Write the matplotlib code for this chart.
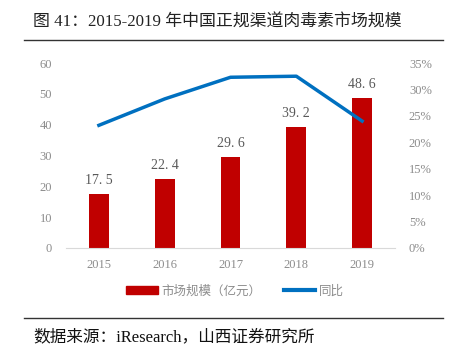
import matplotlib.pyplot as plt
from matplotlib.lines import Line2D
from matplotlib.patches import Patch
from matplotlib.ticker import FuncFormatter

plt.rcParams['font.family'] = ['Liberation Serif', 'Noto Sans CJK SC']

years = ["2015", "2016", "2017", "2018", "2019"]
market = [17.5, 22.4, 29.6, 39.2, 48.6]
growth = [0.232, 0.282, 0.323, 0.325, 0.24]

red = "#c00000"
blue = "#0070c0"
gray = "#8c8c8c"

fig = plt.figure(figsize=(4.52, 3.54), dpi=100)
ax = fig.add_axes([0.146, 0.30, 0.728, 0.522])

x = range(len(years))
ax.bar(x, market, width=0.3, color=red, zorder=2)
for i, v in enumerate(market):
    # the source font draws the decimal point wide
    ax.text(i, v + 2.2, f"{v}".replace(".", ". "), ha="center", va="bottom",
            fontsize=10, color="#595959")
ax.set_ylim(0, 60)
ax.set_yticks(range(0, 61, 10))
ax.set_xlim(-0.5, 4.5)
ax.set_xticks(list(x))
ax.set_xticklabels(years)

ax2 = ax.twinx()
ax2.plot(x, growth, color=blue, linewidth=2.5, zorder=3)
ax2.set_ylim(0, 0.35)
ax2.set_yticks([i * 0.05 for i in range(8)])
ax2.yaxis.set_major_formatter(FuncFormatter(lambda v, p: f"{round(v * 100)}%"))

for a in (ax, ax2):
    for s in a.spines.values():
        s.set_visible(False)
    a.tick_params(length=0, colors=gray, labelsize=9)
ax.spines["bottom"].set_visible(True)
ax.spines["bottom"].set_color("#d9d9d9")
ax.tick_params(axis="x", pad=8)
ax.tick_params(axis="y", pad=10)
ax2.tick_params(axis="y", pad=10)

handles = [Patch(color=red), Line2D([0], [0], color=blue, linewidth=3)]
leg = fig.legend(handles, ["市场规模（亿元）", "同比"], loc="center", bbox_to_anchor=(0.52, 0.178),
                 ncol=2, frameon=False, handlelength=2.5, handleheight=0.5,
                 handletextpad=0.3, columnspacing=1.8,
                 prop={'family': ['Noto Sans CJK SC'], 'size': 9})
for t in leg.get_texts():
    t.set_color(gray)

fig.text(0.073, 0.935, "图 41：2015-2019 年中国正规渠道肉毒素市场规模", fontsize=12.2,
         ha="left", va="center", color="#222222")
fig.add_artist(Line2D([0.053, 0.98], [0.887, 0.887], color="#333333", linewidth=1))
fig.add_artist(Line2D([0.053, 0.98], [0.102, 0.102], color="#333333", linewidth=1))
fig.text(0.073, 0.048, "数据来源：iResearch，山西证券研究所", fontsize=12,
         ha="left", va="center", color="#111111")

fig.savefig("out.png", dpi=100)
